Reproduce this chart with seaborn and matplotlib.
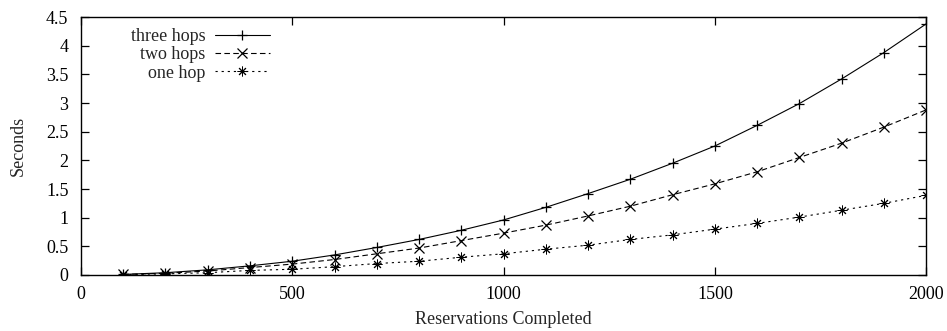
import matplotlib
matplotlib.use("Agg")
import matplotlib.pyplot as plt
import seaborn as sns
import pandas as pd

# Reservations completed (x) and elapsed seconds per routing depth
reservations = [100, 200, 300, 400, 500, 600, 700, 800, 900, 1000,
                1100, 1200, 1300, 1400, 1500, 1600, 1700, 1800, 1900, 2000]
three_hops = [0.01, 0.04, 0.09, 0.16, 0.24, 0.35, 0.48, 0.62, 0.78, 0.96,
              1.18, 1.42, 1.67, 1.95, 2.25, 2.61, 2.99, 3.42, 3.88, 4.38]
two_hops = [0.01, 0.03, 0.07, 0.13, 0.19, 0.27, 0.37, 0.47, 0.60, 0.73,
            0.87, 1.03, 1.20, 1.40, 1.59, 1.80, 2.05, 2.30, 2.58, 2.88]
one_hop = [0.005, 0.02, 0.04, 0.08, 0.10, 0.145, 0.20, 0.24, 0.31, 0.37,
           0.45, 0.52, 0.62, 0.70, 0.80, 0.90, 1.01, 1.13, 1.25, 1.39]

series_names = ["three hops", "two hops", "one hop"]
series_values = [three_hops, two_hops, one_hop]

sns.set_theme(style="ticks")
plt.rcParams["font.family"] = ["Liberation Serif", "DejaVu Serif"]

FS = 13

fig = plt.figure(figsize=(9.47, 3.31), dpi=100)
ax = fig.add_axes([0.0855, 0.1692, 0.8925, 0.7794])

styles = {
    "three hops": dict(marker="+", dashes=None, ms=7, mew=0.9),
    "two hops": dict(marker="x", dashes=(5, 3), ms=6.5, mew=0.9),
    "one hop": dict(marker=(8, 2, 0), dashes=(2, 3.5), ms=7, mew=0.7),
}

for name, vals in zip(series_names, series_values):
    df = pd.DataFrame({"Reservations Completed": reservations, "Seconds": vals})
    st = styles[name]
    sns.lineplot(data=df, x="Reservations Completed", y="Seconds", ax=ax,
                 color="black", linewidth=0.8, marker=st["marker"],
                 markersize=st["ms"], markeredgewidth=st["mew"],
                 markeredgecolor="black", markerfacecolor="none", label=name)
    line = ax.get_lines()[-1]
    if st["dashes"] is not None:
        line.set_dashes(st["dashes"])

ax.set_xlim(0, 2000)
ax.set_ylim(0, 4.5)
ax.set_xticks([0, 500, 1000, 1500, 2000])
ax.set_yticks([0, 0.5, 1, 1.5, 2, 2.5, 3, 3.5, 4, 4.5])
ax.set_yticklabels(["0", "0.5", "1", "1.5", "2", "2.5", "3", "3.5", "4", "4.5"])

for s in ax.spines.values():
    s.set_visible(True)
    s.set_linewidth(1.0)
    s.set_color("black")

ax.tick_params(axis="both", which="major", direction="in", length=6, width=0.9,
               top=True, right=True, labelsize=FS, colors="black")
ax.tick_params(axis="y", pad=9)
ax.tick_params(axis="x", pad=8)
ax.set_xlabel("Reservations Completed", fontsize=FS, labelpad=6)
ax.set_ylabel("Seconds", fontsize=FS, labelpad=14)

leg = ax.legend(loc="upper left", bbox_to_anchor=(0.059, 0.956), frameon=False,
                markerfirst=False, fontsize=FS, handlelength=3.0,
                handletextpad=0.55, labelspacing=0.06, borderpad=0.0,
                borderaxespad=0.0)
leg._legend_box.align = "right"
for vp in leg._legend_box.get_children()[1].get_children():
    vp.align = "right"

fig.savefig("out.png", dpi=100)
